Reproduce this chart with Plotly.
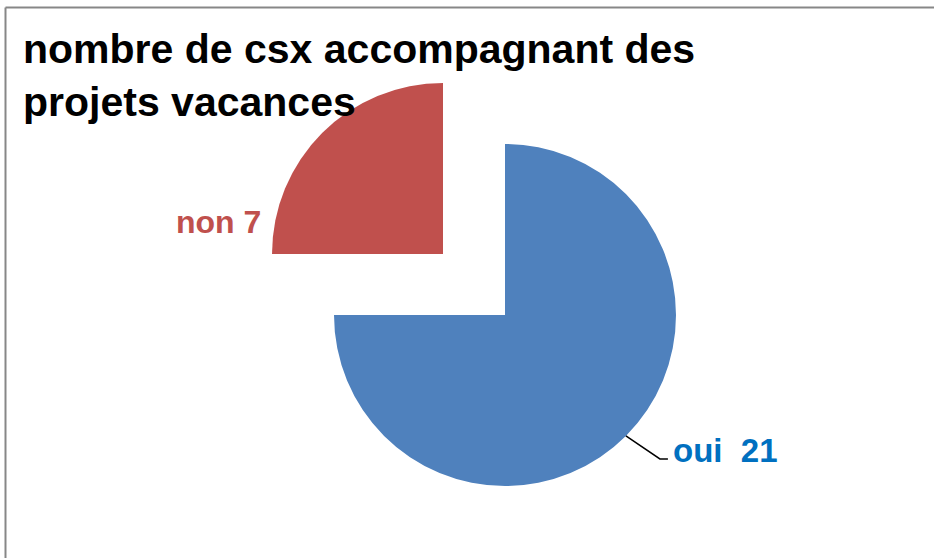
import math
import plotly.graph_objects as go

# ---- data ----
labels = ["oui", "non"]
values = [21, 7]
colors = ["#4F81BD", "#C0504D"]
label_colors = ["#0070C0", "#C0504D"]
title_text = "nombre de csx accompagnant des<br>projets vacances"

W, H = 934, 558
R = 171
centers = [(505, 315), (443, 254)]  # pixel centers (second slice exploded)


def dom(cx, cy):
    return dict(x=[(cx - R) / W, (cx + R) / W], y=[1 - (cy + R) / H, 1 - (cy - R) / H])


fig = go.Figure()
for i, (cx, cy) in enumerate(centers):
    cols = [c if j == i else "rgba(0,0,0,0)" for j, c in enumerate(colors)]
    fig.add_trace(go.Pie(
        labels=labels, values=values, sort=False, direction="clockwise", rotation=0,
        marker=dict(colors=cols, line=dict(width=0)),
        textinfo="none", hoverinfo="label+value", showlegend=False,
        domain=dom(cx, cy),
    ))

# leader line for the first slice from mid-angle on the circle edge
total = sum(values)
mid = (values[0] / 2) / total * 360  # degrees clockwise from 12 o'clock
cx, cy = centers[0]
sx = cx + R * math.sin(math.radians(mid))
sy = cy - R * math.cos(math.radians(mid))
ex, ey = sx + 34, sy + 23
fx = ex + 8


def px(x):
    return x / W


def py(y):
    return 1 - y / H


fig.add_shape(type="path", xref="paper", yref="paper",
              path=f"M {px(sx)} {py(sy)} L {px(ex)} {py(ey)} L {px(fx)} {py(ey)}",
              line=dict(color="black", width=1.5))

FONT = "Liberation Sans, Arial, sans-serif"
fig.add_annotation(x=px(fx + 3), y=py(ey - 8), xref="paper", yref="paper",
                   xanchor="left", yanchor="middle", showarrow=False,
                   text=f"<b>{labels[0]}  {values[0]}</b>",
                   font=dict(family=FONT, size=33, color=label_colors[0]))
fig.add_annotation(x=px(263), y=py(222), xref="paper", yref="paper",
                   xanchor="right", yanchor="middle", showarrow=False,
                   text=f"<b>{labels[1]} {values[1]}</b>",
                   font=dict(family=FONT, size=32, color=label_colors[1]))

# title
fig.add_annotation(x=px(21), y=py(24), xref="paper", yref="paper",
                   xanchor="left", yanchor="top", showarrow=False, align="left",
                   text=f"<b>{title_text}</b>",
                   font=dict(family=FONT, size=41, color="black"))

# chart border (left and top edges visible)
fig.add_shape(type="line", xref="paper", yref="paper",
              x0=px(5.5), x1=px(5.5), y0=0, y1=py(7.5),
              line=dict(color="#878787", width=2))
fig.add_shape(type="line", xref="paper", yref="paper",
              x0=px(5.5), x1=1, y0=py(7.5), y1=py(7.5),
              line=dict(color="#878787", width=2))

fig.update_layout(width=W, height=H, margin=dict(l=0, r=0, t=0, b=0),
                  paper_bgcolor="white", plot_bgcolor="white")
fig.write_html("out.html", config={"displayModeBar": False},
               post_script="document.body.style.margin='0';document.body.style.overflow='hidden';")
